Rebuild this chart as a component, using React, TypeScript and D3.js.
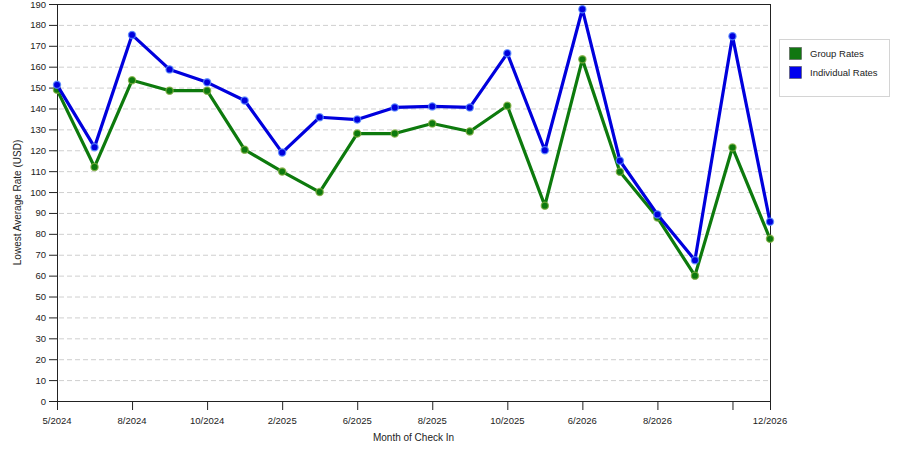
import React from "react";
import * as d3 from "d3";

const tickLabels = ["5/2024", "", "8/2024", "", "10/2024", "", "2/2025", "", "6/2025", "", "8/2025", "", "10/2025", "", "6/2026", "", "8/2026", "", "", "12/2026"];
const tickIndices = [0, 2, 4, 6, 8, 10, 12, 14, 16, 18, 19];
const groupRates = [149, 112, 153.5, 148.5, 148.5, 120.3, 109.8, 100, 128, 128, 132.8, 129, 141.3, 93.5, 163.5, 109.7, 87.8, 60, 121.3, 77.6];
const individualRates = [151.3, 121.5, 175.2, 158.7, 152.5, 143.8, 118.9, 135.8, 134.7, 140.5, 141, 140.5, 166.4, 120, 187.5, 115, 89.3, 67.4, 174.6, 85.8];
const yTicks = d3.range(0, 191, 10);
const seriesNames = ["Group Rates", "Individual Rates"];
const seriesColors = ["#0d7a0d", "#0000dd"];
const haloColors = ["#7fae3f", "#5a8cff"];

const W = 900, H = 450;
const left = 57, right = 770, top = 4, bottom = 401;
const font = "'Liberation Sans', Arial, sans-serif";

export default function App() {
  const x = d3.scaleLinear().domain([0, tickLabels.length - 1]).range([left, right]);
  const y = d3.scaleLinear().domain([0, 190]).range([bottom, top]);
  const line = d3.line<number>().x((_, i) => x(i)).y((d) => y(d));
  const series = [groupRates, individualRates];

  return (
    <svg width={W} height={H} style={{ position: "absolute", left: 0, top: 0, background: "#fff" }}>
      <rect x={0} y={0} width={W} height={H} fill="#fff" />
      {yTicks.filter((t) => t > 0 && t < 190).map((t) => (
        <line key={"g" + t} x1={left + 2} x2={right - 2} y1={y(t) + 0.5} y2={y(t) + 0.5} stroke="#cfcfcf" strokeDasharray="5,3" />
      ))}
      {/* frame */}
      <line x1={left + 0.5} x2={right + 0.5} y1={top + 0.5} y2={top + 0.5} stroke="#222" />
      <line x1={right + 0.5} x2={right + 0.5} y1={top} y2={bottom} stroke="#222" />
      <line x1={left + 0.5} x2={left + 0.5} y1={top} y2={bottom + 1} stroke="#222" />
      <line x1={left} x2={right + 1} y1={bottom + 0.5} y2={bottom + 0.5} stroke="#222" />
      {yTicks.map((t) => (
        <g key={"y" + t}>
          <line x1={left - 8} x2={left} y1={y(t) + 0.5} y2={y(t) + 0.5} stroke="#222" />
          <text x={left - 11} y={y(t) + 3.5} textAnchor="end" fontSize={9.5} fontFamily={font} fill="#222">{t}</text>
        </g>
      ))}
      {tickIndices.map((i) => (
        <g key={"x" + i}>
          <line x1={x(i) + 0.5} x2={x(i) + 0.5} y1={bottom} y2={bottom + 9} stroke="#222" />
          <text x={x(i)} y={bottom + 23} textAnchor="middle" fontSize={9.5} fontFamily={font} fill="#222">{tickLabels[i]}</text>
        </g>
      ))}
      <text x={(left + right) / 2} y={441} textAnchor="middle" fontSize={10} fontFamily={font} fill="#222">Month of Check In</text>
      <text transform={`translate(21,${(top + bottom) / 2}) rotate(-90)`} textAnchor="middle" fontSize={10} fontFamily={font} fill="#222">Lowest Average Rate (USD)</text>
      {series.map((s, si) => (
        <g key={"s" + si}>
          <path d={line(s) || ""} fill="none" stroke={seriesColors[si]} strokeWidth={3.2} strokeLinejoin="round" />
          {s.map((v, i) => (
            <circle key={i} cx={x(i)} cy={y(v)} r={3.6} fill={seriesColors[si]} stroke={haloColors[si]} strokeWidth={1.3} strokeOpacity={0.8} />
          ))}
        </g>
      ))}
      {/* legend */}
      <rect x={779.5} y={39.5} width={110} height={57} fill="#fff" stroke="#d4d4d4" />
      {seriesNames.map((n, i) => (
        <g key={"l" + i}>
          <rect x={789.5} y={47.5 + i * 19} width={12} height={12} fill={seriesColors[i] === "#0000dd" ? "#0000ee" : "#117711"} stroke="#555" strokeWidth={0.6} />
          <text x={810} y={57 + i * 19} fontSize={9.5} fontFamily={font} fill="#222">{n}</text>
        </g>
      ))}
    </svg>
  );
}
